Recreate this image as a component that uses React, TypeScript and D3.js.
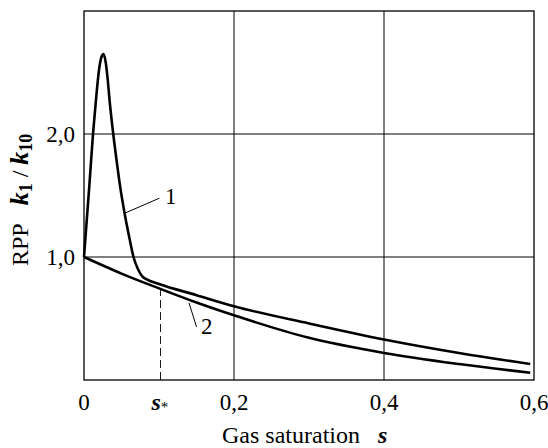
import React from "react";
import * as d3 from "d3";

// curve 1: RPP with the sharp peak near s = 0.026
const curve1S = [0, 0.007, 0.012, 0.016, 0.02, 0.023, 0.026, 0.029, 0.0315, 0.034, 0.039, 0.044, 0.048, 0.054, 0.06, 0.066, 0.072, 0.078, 0.083, 0.1, 0.15, 0.2, 0.3, 0.4, 0.5, 0.595];
const curve1K = [1.0, 1.57, 2.0, 2.28, 2.52, 2.62, 2.65, 2.58, 2.45, 2.28, 2.0, 1.76, 1.58, 1.36, 1.17, 1.0, 0.9, 0.84, 0.82, 0.78, 0.69, 0.6, 0.46, 0.33, 0.22, 0.13];

// curve 2: monotone decrease
const curve2S = [0, 0.02, 0.05, 0.1, 0.15, 0.2, 0.3, 0.4, 0.5, 0.595];
const curve2K = [1.0, 0.945, 0.865, 0.745, 0.63, 0.526, 0.343, 0.22, 0.13, 0.059];

const xTicks = [0, 0.2, 0.4, 0.6];
const xTickLabels = ["0", "0,2", "0,4", "0,6"];
const yTicks = [1, 2];
const yTickLabels = ["1,0", "2,0"];
const sStar = 0.102;
const sStarK = 0.745;

// leader lines: [s1, k1, s2, k2], and label positions
const leader1 = [0.0547, 1.357, 0.1004, 1.478];
const label1 = [0.108, 1.432];
const leader2 = [0.14, 0.627, 0.15, 0.432];
const label2 = [0.156, 0.37];

const W = 548;
const H = 448;
const font = "'Liberation Serif', 'Times New Roman', serif";

export default function App() {
  const x = d3.scaleLinear().domain([0, 0.6]).range([84, 534]);
  const y = d3.scaleLinear().domain([0, 3]).range([380, 11]);

  const line = d3
    .line<[number, number]>()
    .x((d) => x(d[0]))
    .y((d) => y(d[1]))
    .curve(d3.curveMonotoneX);

  const c1 = curve1S.map((s, i) => [s, curve1K[i]] as [number, number]);
  const c2 = curve2S.map((s, i) => [s, curve2K[i]] as [number, number]);

  return (
    <svg
      width={W}
      height={H}
      style={{ position: "absolute", left: 0, top: 0, background: "#fff" }}
      fontFamily={font}
    >
      {/* grid */}
      {[0.2, 0.4].map((t) => (
        <line key={"gx" + t} x1={x(t)} x2={x(t)} y1={y(0)} y2={y(3)} stroke="#000" strokeWidth={1} />
      ))}
      {yTicks.map((t) => (
        <line key={"gy" + t} x1={x(0)} x2={x(0.6)} y1={y(t)} y2={y(t)} stroke="#000" strokeWidth={1} />
      ))}
      <rect x={x(0)} y={y(3)} width={x(0.6) - x(0)} height={y(0) - y(3)} fill="none" stroke="#000" strokeWidth={1.3} />

      {/* s* marker */}
      <line x1={x(sStar)} x2={x(sStar)} y1={y(0)} y2={y(sStarK)} stroke="#000" strokeWidth={0.9} strokeDasharray="8,4" />

      {/* curves */}
      <path d={line(c2) || ""} fill="none" stroke="#000" strokeWidth={2.6} />
      <path d={line(c1) || ""} fill="none" stroke="#000" strokeWidth={2.6} strokeLinejoin="round" />

      {/* leader lines */}
      <line x1={x(leader1[0])} y1={y(leader1[1])} x2={x(leader1[2])} y2={y(leader1[3])} stroke="#000" strokeWidth={1} />
      <text x={x(label1[0])} y={y(label1[1])} fontSize={23}>1</text>
      <line x1={x(leader2[0])} y1={y(leader2[1])} x2={x(leader2[2])} y2={y(leader2[3])} stroke="#000" strokeWidth={1} />
      <text x={x(label2[0])} y={y(label2[1])} fontSize={23}>2</text>

      {/* x tick labels */}
      {xTicks.map((t, i) => (
        <text key={"xt" + t} x={x(t)} y={410} fontSize={23} textAnchor="middle">
          {xTickLabels[i]}
        </text>
      ))}
      <text x={x(sStar) - 9} y={410} fontSize={24}>
        <tspan fontWeight="bold" fontStyle="italic">s</tspan>
        <tspan fontSize={15} dy={2}>*</tspan>
      </text>

      {/* y tick labels */}
      {yTicks.map((t, i) => (
        <text key={"yt" + t} x={75} y={y(t)} fontSize={23} textAnchor="end" dominantBaseline="central">
          {yTickLabels[i]}
        </text>
      ))}

      {/* axis titles */}
      <text x={222} y={443} fontSize={24}>
        Gas saturation
        <tspan dx={18} fontWeight="bold" fontStyle="italic">s</tspan>
      </text>
      <text transform="translate(28,266) rotate(-90)" fontSize={24}>
        RPP
        <tspan dx={18} fontWeight="bold" fontStyle="italic" fontSize={26}>k</tspan>
        <tspan fontWeight="bold" fontSize={18} dy={4}>1</tspan>
        <tspan dy={-4} dx={6} fontSize={24}>/</tspan>
        <tspan dx={6} fontWeight="bold" fontStyle="italic" fontSize={26}>k</tspan>
        <tspan fontWeight="bold" fontSize={18} dy={4}>10</tspan>
      </text>
    </svg>
  );
}
